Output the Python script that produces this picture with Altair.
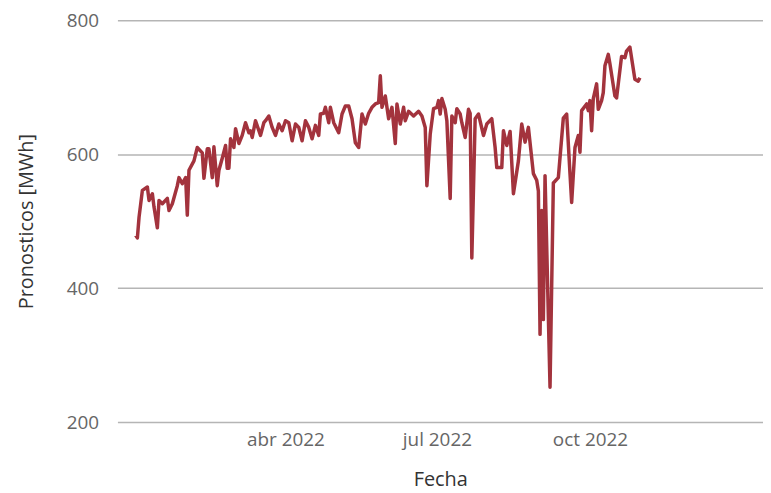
import altair as alt
import pandas as pd

# Day of year 2022 (0 = 1 Jan 2022) and forecast values [MWh]
days = [0, 1, 2, 4, 7, 8, 10, 11, 13, 14,
        16, 19, 20, 22, 25, 26, 28, 30, 31, 32,
        35, 37, 40, 41, 43, 44, 46, 47, 49, 50,
        52, 54, 55, 56, 57, 59, 60, 62, 64, 66,
        68, 69, 70, 72, 75, 77, 78, 80, 82, 84,
        86, 88, 90, 92, 94, 96, 98, 100, 102, 104,
        106, 108, 110, 111, 113, 114, 116, 117, 119, 122,
        124, 126, 128, 130, 132, 134, 136, 138, 140, 142,
        144, 146, 147, 148, 150, 152, 154, 156, 157, 159,
        161, 162, 164, 167, 170, 172, 174, 175, 177, 179,
        181, 182, 183, 184, 186, 187, 189, 190, 192, 193,
        195, 196, 198, 200, 201, 202, 204, 206, 209, 211,
        214, 216, 217, 220, 221, 223, 225, 227, 230, 232,
        234, 236, 239, 241, 242, 243, 244, 245, 246, 249,
        251, 254, 257, 259, 261, 262, 264, 266, 267, 268,
        271, 272, 273, 274, 275, 277, 278, 280, 281, 282,
        284, 285, 288, 289, 292, 294, 295, 297, 300, 302,
        303]

values = [479, 475, 506, 546, 551, 531, 541, 521, 490, 531,
          526, 534, 516, 526, 553, 565, 556, 565, 509, 576,
          590, 610, 602, 564, 608, 608, 565, 611, 553, 576,
          594, 613, 579, 579, 623, 610, 638, 616, 628, 647,
          632, 635, 625, 650, 628, 647, 650, 657, 640, 628,
          645, 635, 650, 647, 620, 645, 640, 620, 650, 640,
          623, 643, 628, 660, 661, 670, 647, 670, 647, 632,
          660, 672, 672, 653, 617, 610, 660, 645, 661, 670,
          675, 677, 717, 670, 687, 653, 670, 616, 675, 645,
          670, 650, 664, 657, 664, 657, 640, 553, 630, 668,
          670, 680, 660, 683, 667, 650, 534, 657, 647, 668,
          660, 647, 625, 667, 661, 445, 653, 660, 628, 645,
          653, 610, 580, 580, 635, 613, 634, 541, 590, 645,
          618, 640, 571, 561, 545, 331, 516, 353, 568, 252,
          557, 565, 654, 660, 571, 528, 610, 628, 603, 665,
          675, 665, 680, 635, 683, 705, 667, 680, 692, 732,
          749, 735, 687, 684, 746, 744, 754, 760, 712, 709,
          714]

y_ticks = [200, 400, 600, 800]

dates = (pd.Timestamp("2022-01-01") + pd.to_timedelta(days, unit="D")).strftime("%Y-%m-%dT00:00:00")
df = pd.DataFrame({"Fecha": list(dates), "Pronosticos": values})

month_expr = ("['ene','feb','mar','abr','may','jun','jul','ago','sep','oct','nov','dic']"
              "[month(datum.value)] + ' ' + year(datum.value)")

chart = alt.Chart(df).mark_line(color="#A3333D", strokeWidth=3.5, strokeJoin="round").encode(
    x=alt.X("Fecha:T", title="Fecha",
            scale=alt.Scale(domain=[alt.DateTime(year=2021, month=12, date=21),
                                    alt.DateTime(year=2023, month=1, date=13)]),
            axis=alt.Axis(values=[alt.DateTime(year=2022, month=4, date=1),
                                  alt.DateTime(year=2022, month=7, date=1),
                                  alt.DateTime(year=2022, month=10, date=1)],
                          labelExpr=month_expr, grid=False, domain=False, ticks=False,
                          labelPadding=9, titlePadding=20)),
    y=alt.Y("Pronosticos:Q", title="Pronosticos [MWh]",
            scale=alt.Scale(domain=[200, 800], nice=False, zero=False),
            axis=alt.Axis(values=y_ticks, grid=True, domain=False, ticks=False,
                          labelPadding=19, titlePadding=30)),
).properties(
    width=649, height=404,
    padding={"left": 8, "top": 2, "right": 0, "bottom": 5},
).configure_view(stroke=None).configure_axis(
    labelFont="Open Sans", titleFont="Open Sans",
    labelFontSize=19, titleFontSize=20,
    labelColor="#666666", titleColor="#333333", titleFontWeight="normal",
    gridColor="#b5b5b5", gridWidth=1.5,
)

chart.save("out.html", embed_options={"renderer": "svg", "actions": False})
